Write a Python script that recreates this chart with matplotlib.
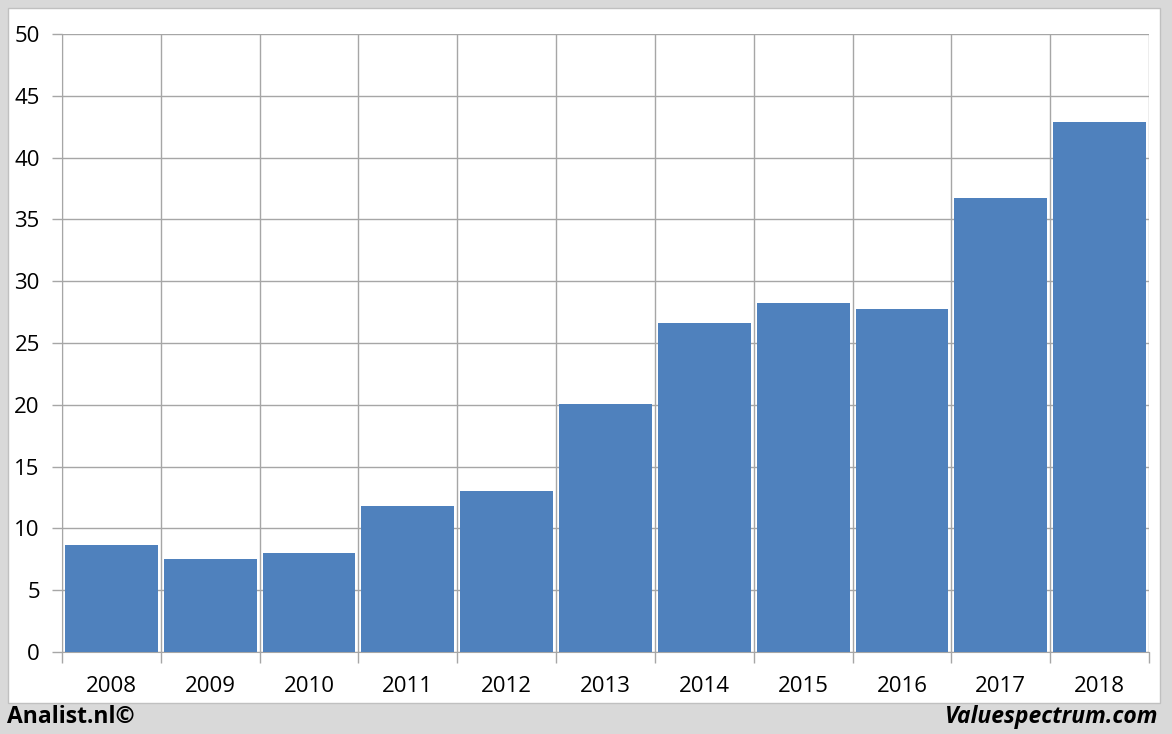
import matplotlib
matplotlib.use("Agg")
import matplotlib.pyplot as plt
from matplotlib.patches import Rectangle
import numpy as np

years = ["2008", "2009", "2010", "2011", "2012", "2013", "2014", "2015", "2016", "2017", "2018"]
values = [8.66, 7.52, 7.98, 11.8, 13.0, 20.06, 26.6, 28.2, 27.75, 36.7, 42.9]
yticks = [0, 5, 10, 15, 20, 25, 30, 35, 40, 45, 50]

W, H = 1172, 734
fig = plt.figure(figsize=(W / 100, H / 100), dpi=100)
fig.patch.set_facecolor("#d9d9d9")
fig.patches.append(Rectangle((8 / W, 1 - 703 / H), (1160 - 8) / W, (703 - 8) / H,
                             transform=fig.transFigure, facecolor="white",
                             edgecolor="#c0c0c0", linewidth=1, zorder=-5))

ax = fig.add_axes([62 / W, 1 - 652 / H, (1149 - 62) / W, (652 - 34) / H])
ax.set_zorder(2)
ax.set_facecolor("none")
x = np.arange(len(years))
ax.bar(x, values, width=0.94, color="#4f81bd", zorder=3)
ax.set_xlim(-0.5, len(years) - 0.5)
ax.set_ylim(0, 50)
ax.set_yticks(yticks)
ax.set_yticklabels([str(v) for v in yticks])
ax.set_xticks(x)
ax.set_xticklabels(years)
ax.set_xticks(np.arange(-0.5, len(years)), minor=True)
ax.grid(axis="y", color="#a6a6a6", linewidth=1, zorder=0)
ax.grid(axis="x", which="minor", color="#a6a6a6", linewidth=1, zorder=0)
ax.tick_params(axis="x", which="major", length=0, pad=17, labelsize=16)
ax.tick_params(axis="x", which="minor", length=8, color="#a6a6a6", width=1)
ax.tick_params(axis="y", length=7, color="#a6a6a6", width=1, pad=9, labelsize=16)
for lab in ax.get_xticklabels() + ax.get_yticklabels():
    lab.set_fontfamily("Open Sans")
for s in ["top", "right"]:
    ax.spines[s].set_visible(False)
ax.spines["left"].set_color("#a6a6a6")
ax.spines["bottom"].set_color("#a6a6a6")

fig.text(7 / W, 1 - 717 / H, "Analist.nl©", fontsize=16.5, fontweight="bold",
         fontfamily="Open Sans", ha="left", va="center")
fig.text(1158 / W, 1 - 717 / H, "Valuespectrum.com", fontsize=16.5, fontweight="bold",
         fontstyle="italic", fontfamily="Open Sans", ha="right", va="center")

fig.savefig("out.png", dpi=100, facecolor=fig.get_facecolor())
